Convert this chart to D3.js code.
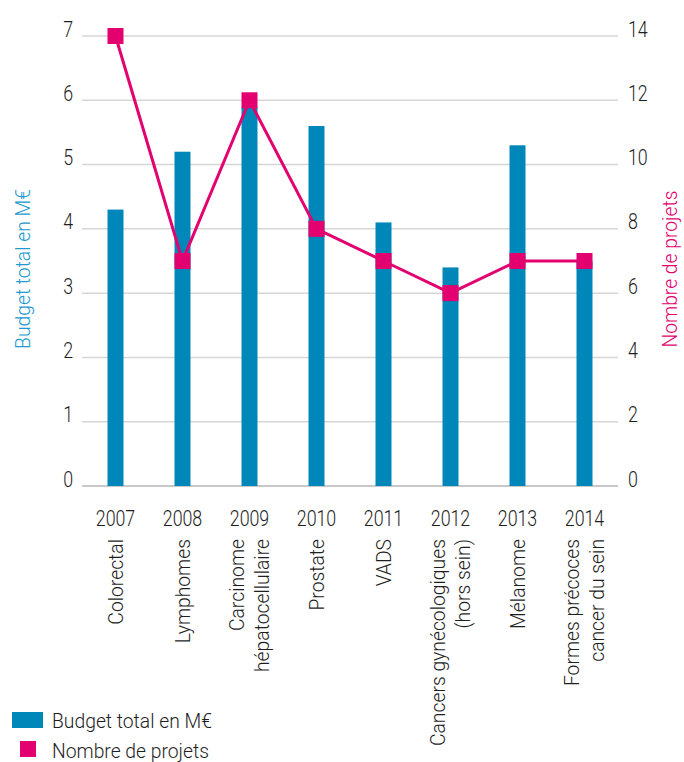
<!DOCTYPE html>
<html>
<head>
<meta charset="utf-8">
<script src="https://cdn.jsdelivr.net/npm/d3@7"></script>
<style>
  body { margin: 0; background: #fff; }
  svg text { font-family: Roboto, "Liberation Sans", sans-serif; font-weight: 300; fill: #1e1e1e; }
</style>
</head>
<body>
<div id="chart"></div>
<script>
const width = 684, height = 762;

// data
const years = ["2007", "2008", "2009", "2010", "2011", "2012", "2013", "2014"];
const cancers = [
	["Colorectal"],
	["Lymphomes"],
	["Carcinome", "hépatocellulaire"],
	["Prostate"],
	["VADS"],
	["Cancers gynécologiques", "(hors sein)"],
	["Mélanome"],
	["Formes précoces", "cancer du sein"]
];
const budget = [4.3, 5.2, 5.9, 5.6, 4.1, 3.4, 5.3, 3.5];
const projets = [14, 7, 12, 8, 7, 6, 7, 7];
const leftTicks = [0, 1, 2, 3, 4, 5, 6, 7];
const rightTicks = [0, 2, 4, 6, 8, 10, 12, 14];

const blue = "#0087ba", pink = "#e3006f";
// condensed look: the installed fonts are all normal width
const numSqueeze = 0.81, wordSqueeze = 0.92;

const plot = {left: 82, right: 618, top: 36, bottom: 486};

const x = d3.scaleBand().domain(years).range([plot.left, plot.right]);
const yL = d3.scaleLinear().domain([0, 7]).range([plot.bottom, plot.top]);
const yR = d3.scaleLinear().domain([0, 14]).range([plot.bottom, plot.top]);
const cx = i => x(years[i]) + x.bandwidth() / 2;

const svg = d3.select("#chart").append("svg")
	.attr("width", width)
	.attr("height", height);

// grid lines
svg.append("g").selectAll("line")
	.data(leftTicks)
	.enter().append("line")
	.attr("x1", plot.left).attr("x2", plot.right)
	.attr("y1", d => yL(d)).attr("y2", d => yL(d))
	.attr("stroke", d => d === 0 ? "#c8c8c8" : "#d6d6d6")
	.attr("stroke-width", d => d === 0 ? 2 : 1.5);

// left axis labels (baseline sits on the grid line)
const axL = svg.append("g")
	.attr("transform", "translate(" + (plot.left - 9) + ",0)")
	.call(d3.axisLeft(yL).tickValues(leftTicks).tickFormat(d3.format("d")).tickSize(0).tickPadding(0));
axL.select(".domain").remove();
axL.selectAll("text")
	.attr("font-size", 22).attr("dy", 0)
	.attr("transform", "scale(" + numSqueeze + ",1)");

// right axis labels
const axR = svg.append("g")
	.attr("transform", "translate(" + (plot.right + 10) + ",0)")
	.call(d3.axisRight(yR).tickValues(rightTicks).tickFormat(d3.format("d")).tickSize(0).tickPadding(0));
axR.select(".domain").remove();
axR.selectAll("text")
	.attr("font-size", 22).attr("dy", 0)
	.attr("transform", "scale(" + numSqueeze + ",1)");

// bars
const barW = 16;
svg.append("g").selectAll("rect")
	.data(budget)
	.enter().append("rect")
	.attr("x", (d, i) => cx(i) - barW / 2)
	.attr("y", d => yL(d))
	.attr("width", barW)
	.attr("height", d => yL(0) - yL(d))
	.attr("fill", blue);

// line + markers
const line = d3.line()
	.x((d, i) => cx(i))
	.y(d => yR(d));

svg.append("path")
	.datum(projets)
	.attr("d", line)
	.attr("fill", "none")
	.attr("stroke", pink)
	.attr("stroke-width", 3);

const mk = 16;
svg.append("g").selectAll("rect")
	.data(projets)
	.enter().append("rect")
	.attr("x", (d, i) => cx(i) - mk / 2)
	.attr("y", d => yR(d) - mk / 2)
	.attr("width", mk)
	.attr("height", mk)
	.attr("fill", pink);

// year labels
svg.append("g").selectAll("text")
	.data(years)
	.enter().append("text")
	.attr("transform", (d, i) => "translate(" + cx(i) + ",526)scale(" + numSqueeze + ",1)")
	.attr("text-anchor", "middle")
	.attr("font-size", 22)
	.text(d => d);

// cancer labels, rotated
const cat = svg.append("g").selectAll("g")
	.data(cancers)
	.enter().append("g")
	.attr("transform", (d, i) => "translate(" + cx(i) + ",539)rotate(-90)scale(" + wordSqueeze + ",1)");

cat.selectAll("text")
	.data(d => d.map((t, j) => ({t: t, j: j, n: d.length})))
	.enter().append("text")
	.attr("x", 0)
	.attr("y", d => (d.j - (d.n - 1) / 2) * 25 + 7)
	.attr("text-anchor", "end")
	.attr("font-size", 21)
	.text(d => d.t);

// axis titles
svg.append("text")
	.attr("transform", "translate(30,269)rotate(-90)scale(" + wordSqueeze + ",1)")
	.attr("text-anchor", "middle")
	.attr("font-size", 21)
	.style("fill", "#2199cf")
	.text("Budget total en M€");

svg.append("text")
	.attr("transform", "translate(677,269)rotate(-90)scale(" + wordSqueeze + ",1)")
	.attr("text-anchor", "middle")
	.attr("font-size", 21)
	.style("fill", pink)
	.text("Nombre de projets");

// legend
svg.append("rect").attr("x", 12).attr("y", 712).attr("width", 31).attr("height", 16).attr("fill", blue);
svg.append("text")
	.attr("transform", "translate(52,728)scale(" + wordSqueeze + ",1)")
	.attr("font-size", 21)
	.text("Budget total en M€");
svg.append("rect").attr("x", 20).attr("y", 741).attr("width", 16).attr("height", 16).attr("fill", pink);
svg.append("text")
	.attr("transform", "translate(52,758)scale(" + wordSqueeze + ",1)")
	.attr("font-size", 21)
	.text("Nombre de projets");
</script>
</body>
</html>
